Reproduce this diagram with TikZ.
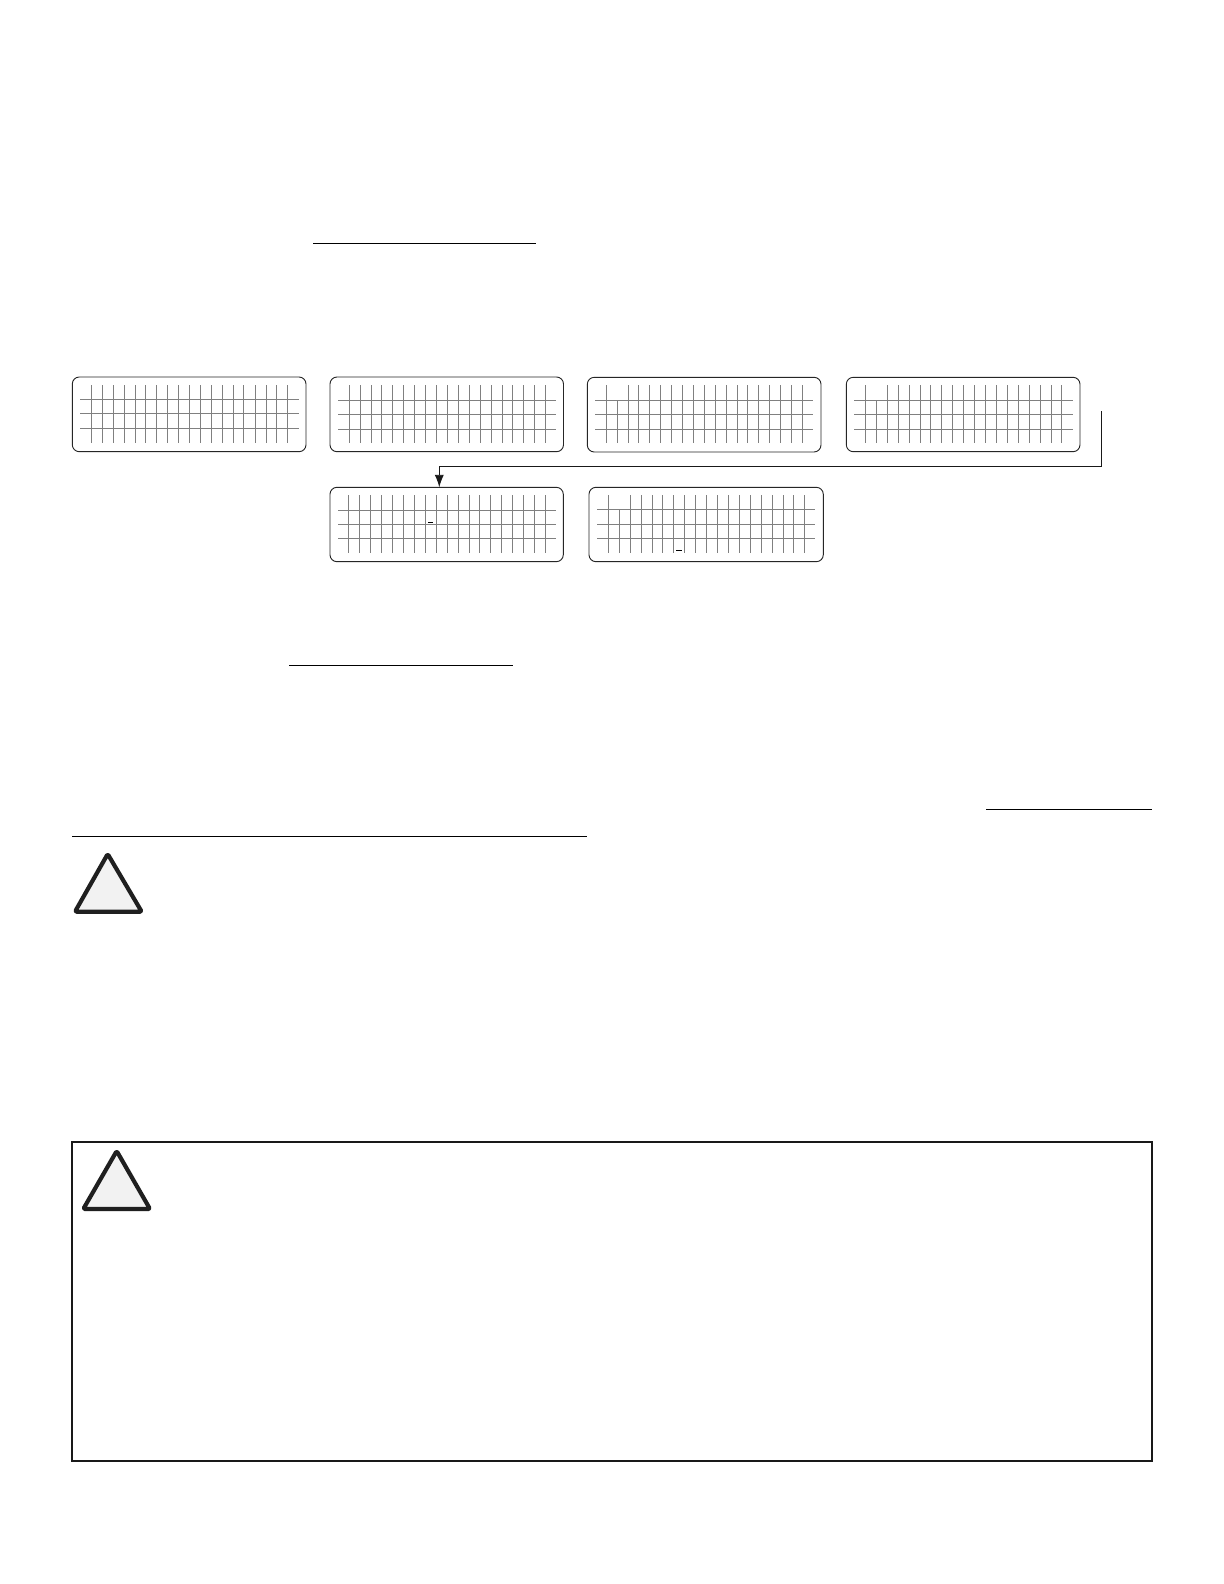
\documentclass[tikz,border=0pt]{standalone}
\usetikzlibrary{arrows.meta}
\tikzset{
  x=0.6pt,y=-0.6pt,
  lcdbox/.style={draw=black!85,line width=0.55pt,rounded corners=4.2pt,anchor=north west,inner sep=0pt,outer sep=0pt},
  gridline/.style={draw=black!50,line width=0.55pt},
  cursorbar/.style={draw=black,line width=0.75pt},
  rulebar/.style={draw=black,line width=0.5pt},
  warntri/.style={draw=black!88,fill=black!5,line width=2.5pt,line join=round,rounded corners=0.8pt},
  flowline/.style={draw=black!90,line width=0.55pt},
  flowend/.style={flowline,-{Latex[length=7.5pt,width=5.5pt]}},
  framebox/.style={draw=black!90,line width=1.3pt,anchor=north west,inner sep=0pt,outer sep=0pt}
}
% name, left, top, right, bottom
\newcommand{\lcdpanel}[5]{%
  \pgfmathsetmacro{\panelw}{(#4-#2)*0.6}\pgfmathsetmacro{\panelh}{(#5-#3)*0.6}%
  \node[lcdbox,minimum width=\panelw pt,minimum height=\panelh pt] (#1) at (#2,#3) {};}
% left, right, y1,y2,y3
\newcommand{\lcdrows}[5]{\foreach \yy in {#3,#4,#5}{\draw[gridline] (#1,\yy) -- (#2,\yy);}}
% top, bottom, x list
\newcommand{\lcdcols}[3]{\foreach \xx in {#3}{\draw[gridline] (\xx,#1) -- (\xx,#2);}}
\begin{document}
\begin{tikzpicture}
\useasboundingbox (0,0) rectangle (1224,1584);
\fill[white] (0,0) rectangle (1224,1584);
% underlines
\coordinate (u1a) at (313,243.5); \coordinate (u1b) at (536,243.5);
\coordinate (u2a) at (289,665.5); \coordinate (u2b) at (513,665.5);
\coordinate (u3a) at (986,809);   \coordinate (u3b) at (1152,809);
\coordinate (u4a) at (72,836);    \coordinate (u4b) at (587,836);
\draw[rulebar] (u1a)--(u1b); \draw[rulebar] (u2a)--(u2b);
\draw[rulebar] (u3a)--(u3b); \draw[rulebar] (u4a)--(u4b);
% panel 1
\lcdpanel{pa}{72.3}{377}{306}{451.7}
\lcdrows{80}{298.7}{399.3}{413.7}{428.3}
\lcdcols{385}{442.7}{91.3,102.3,113.3,124.7,135.3,145.3,156.7,167.3,178.3,189.3,200.3,211.3,222.7,233.3,243.3,255.3,266.3,276.3,287.3}
% panel 2
\lcdpanel{pb}{330}{377}{563.5}{451.7}
\lcdrows{338}{556}{400.3}{414.3}{429.3}
\lcdcols{385}{442.7}{349.3,360.3,371.3,381.3,392.3,403.3,414.3,425.3,436.3,447.3,458.3,469.3,480.3,491.3,502.3,512.3,523.3,534.3,545.3}
% panel 3
\lcdpanel{pc}{587.3}{377.3}{821}{452}
\lcdrows{595}{813}{400.3}{414.3}{429}
\lcdcols{385}{442.7}{606.3,628.3,638.3,649.3,660.3,671.3,682.3,693.3,704.3,715.3,726.3,737.3,747.7,758.3,769.3,780.3,791.3,802.3}
\lcdcols{400.3}{442.7}{617.3}
% panel 4
\lcdpanel{pd}{846.3}{377.3}{1080}{451.7}
\lcdrows{854}{1072.7}{400.3}{414.3}{429}
\lcdcols{385}{442.7}{865.3,887.3,898.3,909.3,920.3,930.3,941.3,952.3,963.3,974.3,985.3,996.3,1007.3,1018.3,1029.3,1040.3,1051.3,1061.3}
\lcdcols{400.3}{442.7}{876.3}
% panel 5
\lcdpanel{pe}{330}{487.3}{563.3}{561.7}
\lcdrows{338}{556}{510.3}{524.3}{538.3}
\lcdcols{495}{552.7}{348.3,359.3,370.3,381.3,392.3,403.3,414.3,425.3,436.3,447.3,458.3,469.3,479.3,490.3,501.3,512.3,523.3,534.3,545.3}
\coordinate (c1a) at (428.3,522.3); \coordinate (c1b) at (432.7,522.3);
\draw[cursorbar] (c1a)--(c1b);
% panel 6
\lcdpanel{pf}{589}{487.3}{823.3}{561.7}
\lcdrows{597}{815}{509.3}{524.3}{538.3}
\lcdcols{495}{552.7}{608.3,630.3,641.3,652.3,662.3,673.3,684.3,695.3,706.3,717.3,728.3,739.3,750.3,761.3,772.3,783.3,793.3,804.3}
\lcdcols{509.3}{552.7}{619.3}
\coordinate (c2a) at (676,550.3); \coordinate (c2b) at (682,550.3);
\draw[cursorbar] (c2a)--(c2b);
% connector
\coordinate (fstart) at (1101.7,411);
\coordinate (fcorner) at (1101.7,466);
\coordinate (fturn) at (439.3,466);
\draw[flowend] (fstart) -- (fcorner) -- (fturn) -- (fturn |- pe.north);
% warning triangle 1
\coordinate (t1a) at (107.7,854); \coordinate (t1b) at (141.7,911.7); \coordinate (t1c) at (75,911.7);
\draw[warntri] (t1a) -- (t1b) -- (t1c) -- cycle;
% warning frame
\node[framebox,minimum width=648pt,minimum height=191.3pt] (warnframe) at (72,1142) {};
% warning triangle 2
\coordinate (t2a) at (116.7,1151); \coordinate (t2b) at (150,1209); \coordinate (t2c) at (83.3,1209);
\draw[warntri] (t2a) -- (t2b) -- (t2c) -- cycle;
\end{tikzpicture}
\end{document}
